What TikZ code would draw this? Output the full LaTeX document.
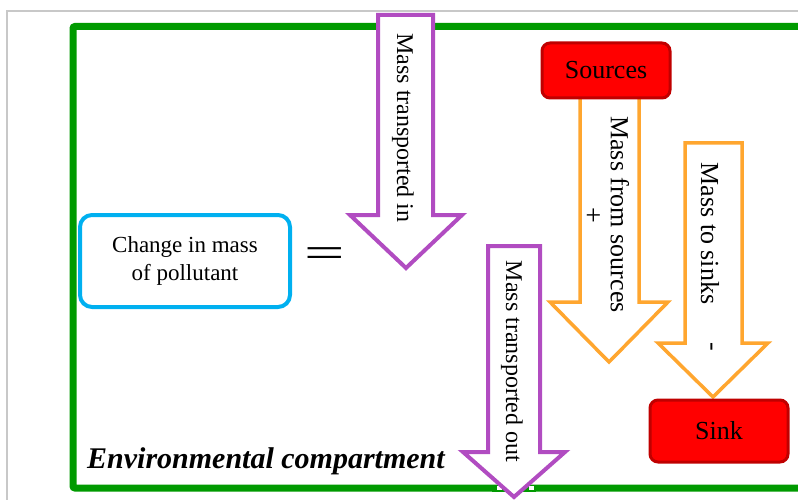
\documentclass[tikz,border=0pt]{standalone}
\usepackage{fontspec}
\setmainfont{Liberation Serif}
\usepackage{graphicx}
\definecolor{frameG}{RGB}{0,154,0}
\definecolor{purp}{RGB}{177,76,193}
\definecolor{orng}{RGB}{255,166,47}
\definecolor{skyb}{RGB}{0,176,240}
\definecolor{dred}{RGB}{192,0,0}
\definecolor{lgray}{RGB}{200,200,200}
\newcommand\blkarrow[9]{% style, xl, xr, ytop, ys, hl, hr, xtip, ytip
  \path[#1] (#2,#4) -- (#3,#4) -- (#3,#5) -- (#7,#5) -- (#8,#9) -- (#6,#5) -- (#2,#5) -- cycle;}
\tikzset{
  purparrow/.style={draw=purp, line width=4pt, fill=white, miter limit=10},
  orngarrow/.style={draw=orng, line width=3.5pt, fill=white, miter limit=10},
  vtext/.style={rotate=-90, inner sep=0pt},
  redbox/.style={draw=dred, fill=red, line width=3pt, rounded corners=8pt, inner sep=0pt, font=\fontsize{26}{30}\selectfont},
  dotsG/.style={draw=white, line width=4pt, dash pattern=on 5pt off 5.5pt},
}
\begin{document}
\begin{tikzpicture}[x=1pt,y=-1pt]
\useasboundingbox (0,0) rectangle (798,500);
% outer gray frame
\draw[lgray, line width=1.5pt] (7,520) -- (7,11) -- (820,11);
% green compartment
\draw[frameG, line width=7pt, rounded corners=2pt] (73,26.5) rectangle (840,488);

% purple arrow in
\blkarrow{fill=white}{378}{433}{15}{215}{350}{462}{406}{268}
\draw[frameG, line width=7pt] (381,26.5) -- (430,26.5);
\draw[dotsG] (388,26.5) -- (428,26.5);
\blkarrow{purparrow}{378}{433}{15}{215}{350}{462}{406}{268}
\node[vtext, font=\fontsize{24}{28}\selectfont] (tin) at (403,128) {Mass transported in};

% purple arrow out
\blkarrow{fill=white}{488}{540}{246}{452}{463}{565}{514}{497}
\draw[frameG, line width=7pt] (492,488) -- (536,488);
\draw[dotsG] (497,488) -- (534,488);
\blkarrow{purparrow}{488}{540}{246}{452}{463}{565}{514}{497}
\node[vtext, font=\fontsize{24}{28}\selectfont] (tout) at (512,361.5) {Mass transported out};

% sources box and arrow
\blkarrow{orngarrow}{580}{639}{97}{302}{550}{668}{609}{362}
\node[redbox, minimum width=128pt, minimum height=55pt] (src) at (606,70.5) {Sources};
\node[vtext, font=\fontsize{26}{30}\selectfont] (tsrc) at (620,214.5) {Mass from sources};
\node[vtext, font=\fontsize{28}{30}\selectfont] (plus) at (592,215) {+};

% sinks arrow and box
\blkarrow{orngarrow}{685}{742}{143}{343}{658}{768}{713}{397}
\node[vtext, font=\fontsize{26}{30}\selectfont] (tsink) at (710,233.5) {Mass to sinks};
\node[vtext, font=\fontsize{26}{30}\selectfont] (minus) at (709,347) {-};
\node[redbox, minimum width=138pt, minimum height=62pt] (snk) at (719,431) {Sink};

% change in mass
\node[draw=skyb, line width=4pt, rounded corners=12pt, minimum width=210pt, minimum height=92pt,
      align=center, font=\fontsize{23}{28}\selectfont] (chg) at (185,261) {Change in mass\\of pollutant};
\node[inner sep=0pt, font=\fontsize{64}{64}\selectfont] (eq) at (325,257.5) {\scalebox{1.12}[0.68]{=}};

% label
\node[anchor=base west, inner sep=0pt, font=\fontsize{30}{34}\selectfont\bfseries\itshape] (env) at (87,468) {Environmental compartment};
\end{tikzpicture}
\end{document}
